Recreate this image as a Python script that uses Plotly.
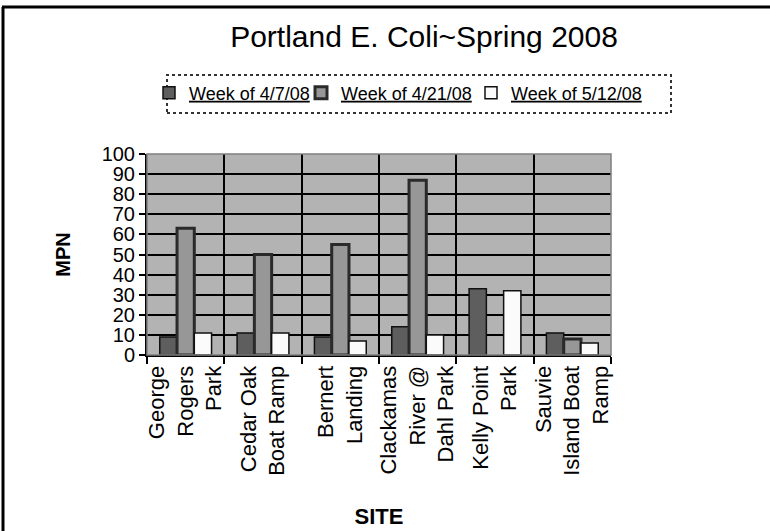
import plotly.graph_objects as go

sites = ["George<br>Rogers<br>Park", "Cedar Oak<br>Boat Ramp", "Bernert<br>Landing",
         "Clackamas<br>River @<br>Dahl Park", "Kelly Point<br>Park", "Sauvie<br>Island Boat<br>Ramp"]
week_0407 = [9, 11, 9, 14, 33, 11]
week_0421 = [63, 50, 55, 87, None, 8]
week_0512 = [11, 11, 7, 10, 32, 6]
series_names = ["Week of 4/7/08", "Week of 4/21/08", "Week of 5/12/08"]
y_ticks = list(range(0, 101, 10))

FONT = "Liberation Sans, Arial, sans-serif"

fig = go.Figure()
fig.add_trace(go.Bar(x=sites, y=week_0407, name="<u>" + series_names[0] + "</u>", legend="legend",
                     marker=dict(color="#5e5e5e", line=dict(color="#111111", width=1.5))))
fig.add_trace(go.Bar(x=sites, y=week_0421, name="<u>" + series_names[1] + "</u>", legend="legend2",
                     marker=dict(color="#979797", line=dict(color="#2a2a2a", width=3))))
fig.add_trace(go.Bar(x=sites, y=week_0512, name="<u>" + series_names[2] + "</u>", legend="legend3",
                     marker=dict(color="#fbfbfb", line=dict(color="#111111", width=1.5))))

# plot area geometry in px
L, R, T, B = 147, 611, 154, 355
W, H = R - L, B - T
def px(x): return (x - L) / W
def py(y): return (B - y) / H

shapes = [
    # plot area outline (grey)
    dict(type="rect", xref="paper", yref="paper", x0=0, x1=1, y0=0, y1=1,
         line=dict(color="#808080", width=1.5), layer="above"),
    # legend dotted box
    dict(type="rect", xref="paper", yref="paper", x0=px(167), x1=px(671), y0=py(113), y1=py(75),
         line=dict(color="#333333", width=2, dash="dot")),
    # outer frame: top and left
    dict(type="line", xref="paper", yref="paper", x0=px(2), x1=px(770), y0=py(7), y1=py(7),
         line=dict(color="#000000", width=3)),
    dict(type="line", xref="paper", yref="paper", x0=px(3), x1=px(3), y0=py(7), y1=py(531),
         line=dict(color="#000000", width=3)),
]

def legend_at(xpix):
    return dict(orientation="h", xref="container", yref="container",
                x=xpix / 770, y=1 - 93 / 531, xanchor="left", yanchor="middle",
                font=dict(size=18, family=FONT, color="#000000"), bgcolor="rgba(0,0,0,0)",
                itemclick=False)

fig.update_layout(
    width=770, height=531,
    margin=dict(l=L, r=770 - R, t=T, b=531 - B, autoexpand=False),
    paper_bgcolor="white", plot_bgcolor="#b3b3b3",
    font=dict(family=FONT, color="#000000"),
    title=dict(text="Portland E. Coli~Spring 2008", x=424 / 770, xref="container",
               y=1 - 36 / 531, yref="container", xanchor="center", yanchor="middle",
               font=dict(size=30, family=FONT, color="#000000")),
    barmode="group", bargap=0.33, bargroupgap=0,
    showlegend=True,
    legend=legend_at(149),
    legend2=legend_at(301),
    legend3=legend_at(471),
    shapes=shapes,
)

fig.update_xaxes(
    type="category", tickson="boundaries", ticks="outside", ticklen=7, tickwidth=2, tickcolor="#000000",
    showgrid=True, gridcolor="#000000", gridwidth=2,
    showline=True, linecolor="#000000", linewidth=2,
    tickangle=-90, tickfont=dict(size=22, family=FONT, color="#000000"),
    title=dict(text="<b>SITE</b>", font=dict(size=22, family=FONT, color="#000000"), standoff=34),
    automargin=False,
)
fig.update_yaxes(
    range=[0, 100], tickvals=y_ticks, ticks="outside", ticklen=6, tickwidth=2, tickcolor="#000000",
    showgrid=True, gridcolor="#000000", gridwidth=2, zeroline=False,
    showline=True, linecolor="#000000", linewidth=2,
    tickfont=dict(size=20, family=FONT, color="#000000"),
    title=dict(text="<b>MPN</b>", font=dict(size=20, family=FONT, color="#000000"), standoff=26),
    automargin=False,
)

fig.write_html("out.html", config={"displayModeBar": False},
               post_script="document.body.style.margin='0';document.body.style.overflow='hidden';")
